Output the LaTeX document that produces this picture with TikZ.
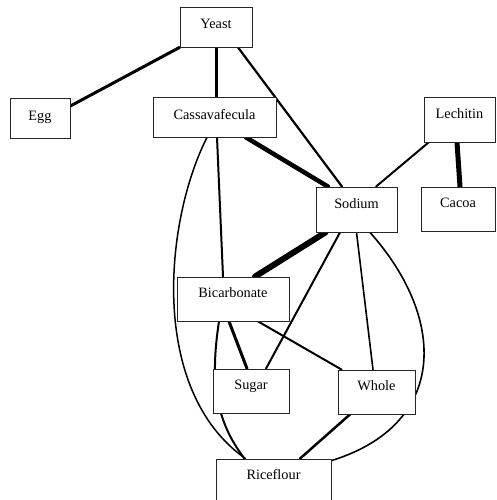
\documentclass[tikz,border=0pt]{standalone}
\usepackage{fontspec}
\setmainfont{Liberation Serif}
\usetikzlibrary{backgrounds}
\tikzset{
  box/.style={draw=black!85, line width=0.8pt, fill=white, rectangle, inner sep=0pt,
    font=\fontsize{14.3}{16}\selectfont, text=black},
  e/.style={draw=black, line cap=round},
}
\newcommand{\mkbox}[7]{%
  % name, x1, y1, x2, y2, text height, text
  \node[box, minimum width={#4-#2}, minimum height={#5-#3}, text height=#6, text depth={#5-#3-#6}]
    (#1) at ({(#2+#4)/2},{(#3+#5)/2}) {#7};}
\begin{document}
\begin{tikzpicture}[x=1pt,y=-1pt]
\useasboundingbox (0,0) rectangle (497,500);
\mkbox{yeast}{180}{7}{252}{47}{22}{Yeast}
\mkbox{egg}{10}{98}{70}{138}{23}{Egg}
\mkbox{cassava}{153}{97}{276}{137}{22}{Cassavafecula}
\mkbox{lechitin}{424}{97}{495}{142}{21}{Lechitin}
\mkbox{sodium}{316}{187}{397}{232}{21}{Sodium}
\mkbox{cacoa}{421}{187}{495}{231}{20}{Cacoa}
\mkbox{bicarb}{177}{277}{289}{321}{20}{Bicarbonate}
\mkbox{sugar}{213}{369}{289}{413}{20}{Sugar}
\mkbox{whole}{338}{370}{415}{414}{20}{Whole}
\mkbox{rice}{216}{459}{331}{503}{20}{Riceflour}
\begin{scope}[on background layer]
\draw[e, line width=3pt] (yeast.south west) -- ([yshift=12pt]egg.east);
\draw[e, line width=3pt] (yeast.south) -- (yeast.south |- cassava.north);
\draw[e, line width=2.2pt] ([xshift=22pt]yeast.south) -- ([xshift=-14.5pt]sodium.north);
\draw[e, line width=4.5pt] ([xshift=31.5pt]cassava.south) -- ([xshift=-28.5pt]sodium.north);
\draw[e, line width=2pt] ([xshift=2.5pt]cassava.south) -- ([xshift=-10pt]bicarb.north);
\draw[e, line width=1.5pt] ([xshift=-7.5pt]cassava.south) .. controls (165,220) and (148,390) .. ([xshift=-28pt]rice.north);
\draw[e, line width=2pt] ([xshift=5pt]lechitin.south west) -- ([xshift=19.5pt]sodium.north);
\draw[e, line width=5pt] ([xshift=-2.5pt]lechitin.south) -- ([xshift=2pt]cacoa.north);
\draw[e, line width=6pt] ([xshift=-31pt]sodium.south) -- ([xshift=22pt]bicarb.north);
\draw[e, line width=2pt] ([xshift=-16.5pt]sodium.south) -- ([xshift=15pt]sugar.north);
\draw[e, line width=1.6pt] (sodium.south) -- ([xshift=-3.5pt]whole.north);
\draw[e, line width=1.6pt] ([xshift=13.5pt]sodium.south) .. controls (448,320) and (447,425) .. ([yshift=-2pt]rice.north east);
\draw[e, line width=3pt] ([xshift=-4pt]bicarb.south) -- ([xshift=-4pt]sugar.north);
\draw[e, line width=2pt] ([xshift=-14pt]bicarb.south) .. controls (210,380) and (215,420) .. ([xshift=-29pt]rice.north);
\draw[e, line width=2pt] ([xshift=25pt]bicarb.south) -- ([xshift=4pt]whole.north west);
\draw[e, line width=2.5pt] ([xshift=-26.5pt]whole.south) -- ([xshift=26.5pt]rice.north);
\end{scope}
\end{tikzpicture}
\end{document}
